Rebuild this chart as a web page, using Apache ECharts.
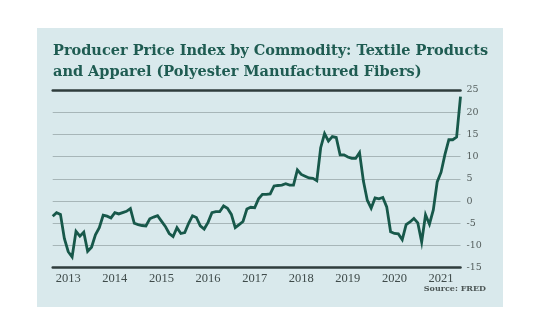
<!DOCTYPE html>
<html>
<head>
<meta charset="utf-8">
<script src="https://cdn.jsdelivr.net/npm/echarts@6/dist/echarts.min.js"></script>
<style>html,body{margin:0;padding:0;background:#fff}#c{width:540px;height:336px}</style>
</head>
<body>
<div id="c"></div>
<script>
// Series start month (Sep 2012), monthly values through Jun 2021
const startYear = 2012;
const startMonth = 9;
const values = [
  -3.4, -2.6, -3.0, -8.4, -11.4, -12.6, -6.8, -7.9, -7.0, -11.3,
  -10.4, -7.6, -6.0, -3.2, -3.4, -3.8, -2.6, -2.9, -2.6, -2.3,
  -1.7, -5.0, -5.3, -5.5, -5.6, -4.0, -3.6, -3.3, -4.5, -5.7,
  -7.3, -8.0, -6.0, -7.3, -7.1, -5.0, -3.3, -3.7, -5.6, -6.3,
  -4.8, -2.6, -2.4, -2.4, -1.1, -1.6, -3.0, -6.0, -5.3, -4.6,
  -1.8, -1.4, -1.5, 0.5, 1.5, 1.5, 1.6, 3.4, 3.5, 3.6,
  3.9, 3.6, 3.6, 7.0, 6.0, 5.6, 5.2, 5.1, 4.6, 12.0,
  15.2, 13.5, 14.5, 14.3, 10.4, 10.4, 9.9, 9.6, 9.6, 10.9,
  4.5, 0.2, -1.6, 0.7, 0.5, 0.8, -1.3, -6.9, -7.3, -7.4,
  -8.7, -5.3, -4.7, -3.9, -4.9, -9.2, -3.1, -5.2, -2.0, 4.3,
  6.5, 10.5, 13.8, 13.8, 14.4, 23.5
];
const yTicks = [-15, -10, -5, 0, 5, 10, 15, 20, 25];
const titleText = 'Producer Price Index by Commodity: Textile Products\nand Apparel (Polyester Manufactured Fibers)';
const sourceText = 'Source: FRED';

const categories = [];
for (let i = 0; i < values.length; i++) {
  const m = (startMonth - 1 + i) % 12 + 1;
  const y = startYear + Math.floor((startMonth - 1 + i) / 12);
  categories.push(y + '-' + (m < 10 ? '0' + m : m));
}

const chart = echarts.init(document.getElementById('c'), null, {renderer: 'canvas'});
const dark = '#2f3d3c';
chart.setOption({
  backgroundColor: '#ffffff',
  animation: false,
  graphic: [
    {type: 'rect', z: -10, shape: {x: 37, y: 28, width: 466, height: 279}, style: {fill: '#d9e9ec'}},
    {type: 'text', right: 540 - 486, top: 285, style: {text: sourceText, font: 'bold 8px "DejaVu Serif"', fill: '#4d5756', textAlign: 'right'}}
  ],
  title: {
    text: titleText,
    left: 48,
    top: 36,
    textStyle: {fontFamily: 'DejaVu Serif', fontWeight: 'bold', fontSize: 14.5, color: '#1f5c52', lineHeight: 21}
  },
  grid: {left: 52.7, right: 79.5, top: 90, bottom: 68.3, containLabel: false},
  xAxis: [
    {
      type: 'category', data: categories, boundaryGap: false, position: 'bottom',
      axisLine: {show: true, onZero: false, lineStyle: {color: dark, width: 2.5}},
      axisTick: {show: false},
      splitLine: {show: false},
      axisLabel: {
        margin: 5,
        interval: function (idx, val) { return val.slice(5) === '01'; },
        formatter: function (val) { return val.slice(0, 4); },
        fontFamily: 'Liberation Serif', fontSize: 12.5, color: '#3f4b4a'
      }
    },
    {
      type: 'category', data: categories, boundaryGap: false, position: 'top',
      axisLine: {show: true, onZero: false, lineStyle: {color: dark, width: 2.5}},
      axisTick: {show: false}, axisLabel: {show: false}, splitLine: {show: false}
    }
  ],
  yAxis: {
    type: 'value', position: 'right', min: yTicks[0], max: yTicks[yTicks.length - 1], interval: 5,
    axisLine: {show: false}, axisTick: {show: false},
    splitLine: {show: true, lineStyle: {color: '#a7b6b8', width: 1}},
    axisLabel: {margin: 6, fontFamily: 'DejaVu Serif', fontSize: 9.5, color: '#555f5e'}
  },
  series: [{
    type: 'line', data: values, showSymbol: false, symbol: 'none',
    lineStyle: {color: '#17584a', width: 2.8, join: 'miter'},
    z: 5
  }]
});
</script>
</body>
</html>
